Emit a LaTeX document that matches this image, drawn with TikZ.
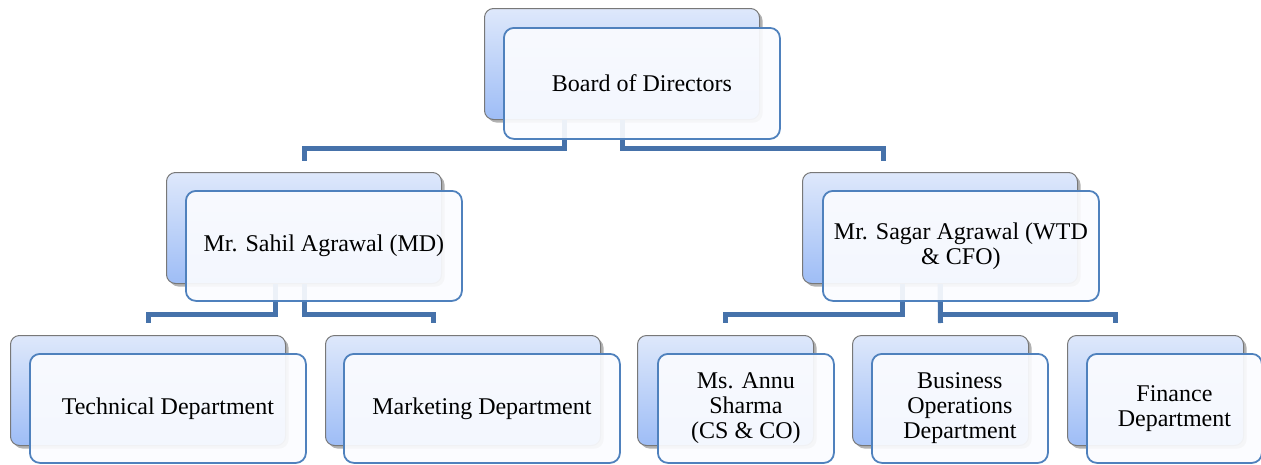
\documentclass[tikz,border=0pt]{standalone}
\usepackage{fontspec}
\setmainfont{Liberation Serif}
\newfontfamily\tnr{Liberation Serif}
\usetikzlibrary{shadows,calc}
\definecolor{conncol}{RGB}{70,114,170}
\definecolor{frontborder}{RGB}{79,129,189}
\definecolor{frontfill}{RGB}{251,252,255}
\definecolor{backtop}{RGB}{222,232,251}
\definecolor{backbot}{RGB}{158,189,246}
\definecolor{backborder}{RGB}{120,120,120}
\tikzset{
  backbox/.style={anchor=north west, inner sep=0pt, rounded corners=9pt,
    draw=backborder, line width=1pt, top color=backtop, bottom color=backbot,
    drop shadow={shadow xshift=3pt, shadow yshift=-3pt, opacity=0.3, fill=black}},
  frontbox/.style={anchor=north west, inner sep=2pt, rounded corners=10pt,
    draw=frontborder, line width=1.8pt, fill=frontfill, fill opacity=0.92,
    text opacity=1, align=center,
    font=\tnr\fontsize{24}{25}\selectfont},
  wide/.style={minimum width=275pt, minimum height=111pt},
  narrow/.style={minimum width=176pt, minimum height=110pt},
  conn/.style={draw=conncol, line width=5pt}
}
\begin{document}
\begin{tikzpicture}[x=1pt,y=-1pt]
\useasboundingbox (0,0) rectangle (1261,464);
% back boxes
\node[backbox, wide] (bodb) at (484,8) {};
\node[backbox, wide] (sahb) at (166,172) {};
\node[backbox, wide] (sagb) at (802,172) {};
\node[backbox, wide, minimum height=110pt] (techb) at (10,335) {};
\node[backbox, wide, minimum height=110pt] (mktb) at (325,335) {};
\node[backbox, narrow] (annub) at (637,335) {};
\node[backbox, narrow] (busb) at (852,335) {};
\node[backbox, narrow] (finb) at (1067,335) {};
% connectors
\draw[conn] ([xshift=-58pt]bodb.south) -- ++(0,28) -| ([yshift=11pt]sahb.north);
\draw[conn] (bodb.south) -- ++(0,28) -| ([xshift=-57pt,yshift=11pt]sagb.north);
\draw[conn] ([xshift=-29pt]sahb.south) -- ++(0,30) -| ([yshift=12pt]techb.north);
\draw[conn] (sahb.south) -- ++(0,30) -| ([xshift=-30pt,yshift=12pt]mktb.north);
\draw[conn] ([xshift=-38pt]sagb.south) -- ++(0,30) -| ([yshift=12pt]annub.north);
\draw[conn] (sagb.south) -- ([yshift=12pt]busb.north);
\draw[conn] (sagb.south) -- ++(0,30) -| ([xshift=-40pt,yshift=12pt]finb.north);
% front boxes
\node[frontbox, minimum width=276pt, minimum height=111pt] (bodf) at (503,27) {Board of Directors};
\node[frontbox, minimum width=276pt, minimum height=110pt] (sahf) at (185,190) {Mr. Sahil Agrawal (MD)};
\node[frontbox, minimum width=276pt, minimum height=110pt] (sagf) at (822,190) {Mr. Sagar Agrawal (WTD\\\& CFO)};
\node[frontbox, minimum width=276pt, minimum height=109pt] (techf) at (29,353) {Technical Department};
\node[frontbox, minimum width=276pt, minimum height=109pt] (mktf) at (343,353) {Marketing Department};
\node[frontbox, minimum width=176pt, minimum height=109pt] (annuf) at (657,353) {Ms. Annu\\Sharma\\(CS \& CO)};
\node[frontbox, minimum width=176pt, minimum height=109pt] (busf) at (871,353) {Business\\Operations\\Department};
\node[frontbox, minimum width=175pt, minimum height=109pt] (finf) at (1086,353) {Finance\\Department};
\end{tikzpicture}
\end{document}
